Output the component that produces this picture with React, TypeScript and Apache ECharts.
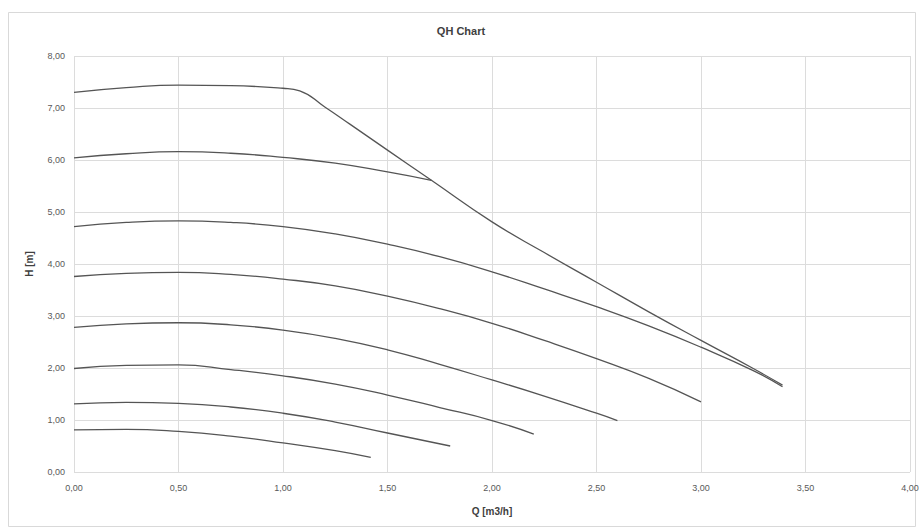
import React, { useEffect, useRef } from "react";
import * as echarts from "echarts";

const xTicks = [0, 0.5, 1, 1.5, 2, 2.5, 3, 3.5, 4];
const yTicks = [0, 1, 2, 3, 4, 5, 6, 7, 8];

const curveA: [number, number][] = [
  [0, 7.3], [0.25, 7.39], [0.5, 7.44], [0.75, 7.43], [1.0, 7.38], [1.08, 7.33],
  [1.2, 7.02], [1.32, 6.69], [1.5, 6.19], [1.71, 5.61], [2.0, 4.81], [2.25, 4.22],
  [2.5, 3.65], [2.75, 3.08], [3.0, 2.53], [3.25, 1.99], [3.39, 1.67],
];
const curveB: [number, number][] = [
  [0, 6.04], [0.25, 6.12], [0.5, 6.16], [0.75, 6.13], [1.0, 6.05], [1.25, 5.94],
  [1.5, 5.77], [1.71, 5.61],
];
const curveC: [number, number][] = [
  [0, 4.72], [0.25, 4.8], [0.5, 4.83], [0.75, 4.8], [1.0, 4.72], [1.25, 4.58],
  [1.5, 4.38], [1.75, 4.14], [2.0, 3.85], [2.25, 3.52], [2.5, 3.18], [2.75, 2.81],
  [3.0, 2.4], [3.25, 1.95], [3.39, 1.64],
];
const curveD: [number, number][] = [
  [0, 3.76], [0.25, 3.82], [0.5, 3.84], [0.75, 3.8], [1.0, 3.71], [1.25, 3.58],
  [1.5, 3.38], [1.75, 3.14], [2.0, 2.86], [2.25, 2.53], [2.5, 2.18], [2.75, 1.8],
  [3.0, 1.35],
];
const curveE: [number, number][] = [
  [0, 2.78], [0.25, 2.85], [0.5, 2.87], [0.75, 2.83], [1.0, 2.73], [1.25, 2.57],
  [1.5, 2.35], [1.75, 2.07], [2.0, 1.77], [2.25, 1.46], [2.5, 1.13], [2.6, 0.99],
];
const curveF: [number, number][] = [
  [0, 1.99], [0.25, 2.05], [0.5, 2.06], [0.75, 1.97], [1.0, 1.85], [1.25, 1.69],
  [1.5, 1.48], [1.75, 1.24], [2.0, 0.99], [2.2, 0.73],
];
const curveG: [number, number][] = [
  [0, 1.31], [0.25, 1.34], [0.5, 1.32], [0.75, 1.25], [1.0, 1.13], [1.25, 0.96],
  [1.5, 0.75], [1.8, 0.5],
];
const curveH: [number, number][] = [
  [0, 0.81], [0.25, 0.82], [0.5, 0.78], [0.75, 0.69], [1.0, 0.56], [1.25, 0.41],
  [1.42, 0.28],
];

const curves = [curveA, curveB, curveC, curveD, curveE, curveF, curveG, curveH];

const fmt = (v: number) => v.toFixed(2).replace(".", ",");

export default function App() {
  const ref = useRef<HTMLDivElement>(null);
  useEffect(() => {
    if (!ref.current) return;
    const chart = echarts.init(ref.current, null, { renderer: "svg" });
    chart.setOption({
      animation: false,
      backgroundColor: "#ffffff",
      title: {
        text: "QH Chart",
        left: "center",
        top: 20,
        textStyle: { fontFamily: "Liberation Sans", fontSize: 11, fontWeight: "bold", color: "#404040" },
      },
      graphic: [
        {
          type: "rect",
          shape: { x: 8.5, y: 12.5, width: 907, height: 514 },
          style: { fill: "none", stroke: "#d9d9d9", lineWidth: 1 },
          silent: true,
        },
      ],
      grid: { left: 74, right: 12, top: 56, bottom: 57, containLabel: false },
      xAxis: {
        type: "value",
        min: xTicks[0],
        max: xTicks[xTicks.length - 1],
        interval: 0.5,
        name: "Q [m3/h]",
        nameLocation: "middle",
        nameGap: 34,
        nameTextStyle: { fontFamily: "Liberation Sans", fontSize: 10, fontWeight: "bold", color: "#404040" },
        axisLine: { show: false },
        axisTick: { show: false },
        axisLabel: { formatter: fmt, fontFamily: "Liberation Sans", fontSize: 9, color: "#595959", margin: 11 },
        splitLine: { show: true, lineStyle: { color: "#dcdcdc", width: 1 } },
      },
      yAxis: {
        type: "value",
        min: yTicks[0],
        max: yTicks[yTicks.length - 1],
        interval: 1,
        name: "H [m]",
        nameLocation: "middle",
        nameGap: 40,
        nameTextStyle: { fontFamily: "Liberation Sans", fontSize: 10, fontWeight: "bold", color: "#404040" },
        axisLine: { show: false },
        axisTick: { show: false },
        axisLabel: { formatter: fmt, fontFamily: "Liberation Sans", fontSize: 9, color: "#595959", margin: 9 },
        splitLine: { show: true, lineStyle: { color: "#dcdcdc", width: 1 } },
      },
      series: curves.map((d) => ({
        type: "line",
        data: d,
        showSymbol: false,
        smooth: 0.5,
        lineStyle: { color: "#555555", width: 1.3 },
        silent: true,
      })),
    });
    return () => chart.dispose();
  }, []);
  return (
    <div
      ref={ref}
      style={{ position: "fixed", left: 0, top: 0, width: 922, height: 529 }}
    />
  );
}
